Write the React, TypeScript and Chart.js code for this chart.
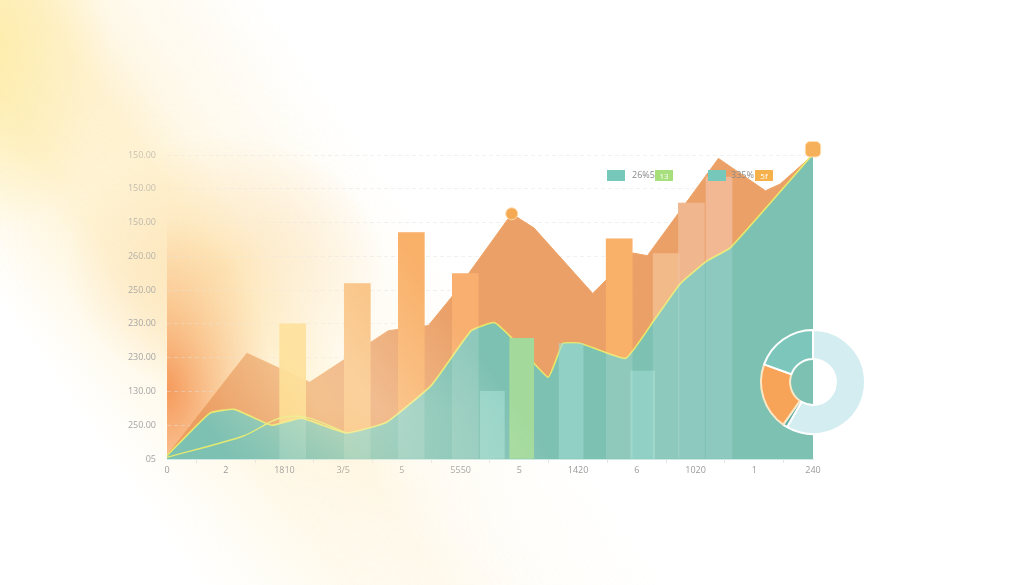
import React, { useEffect, useRef } from "react";
import { Chart, registerables } from "chart.js";
Chart.register(...registerables);

const xLabels = ["0", "2", "1810", "3/5", "5", "5550", "5", "1420", "6", "1020", "1", "240"];
const yLabels = ["05", "250.00", "130.00", "230.00", "230.00", "250.00", "260.00", "150.00", "150.00", "150.00"];

const orangeX = [0, 1.36, 2.43, 3.77, 4.45, 4.84, 5.87, 6.25, 7.25, 7.93, 8.18, 9.39, 10.19, 10.44, 11];
const orangeY = [0.1, 3.13, 2.27, 3.8, 3.95, 4.78, 7.26, 6.84, 4.9, 6.1, 6.02, 8.9, 7.94, 8.14, 9.0];

const tealX = [0, 0.73, 1.15, 1.78, 2.29, 3.06, 3.74, 4.5, 5.18, 5.57, 5.86, 6.49, 6.74, 7.05, 7.81, 8.29, 8.74, 9.2, 9.59, 11];
const tealY = [0.1, 1.36, 1.47, 1.0, 1.21, 0.77, 1.09, 2.18, 3.8, 4.04, 3.6, 2.42, 3.42, 3.42, 2.98, 4.1, 5.19, 5.87, 6.25, 9.03];

const lowX = [0, 1.3, 1.9, 2.36, 3.06];
const lowY = [0.05, 0.68, 1.2, 1.24, 0.77];

const warmX = [2.14, 3.24, 4.16, 5.08, 7.7, 8.5, 8.93, 9.4];
const warmY = [4.0, 5.19, 6.7, 5.49, 6.52, 6.08, 7.58, 8.35];
const warmColors = ["rgba(253,208,110,0.95)", "#f9b264", "#f9a553", "#f7a45a", "#f9a553", "#f2b078", "#eeac7c", "#f0ae84"];

const coolX = [5.54, 6.04, 6.88, 8.1];
const coolY = [2.0, 3.57, 3.42, 2.6];
const coolColors = ["rgba(165,222,212,0.65)", "#a3da9c", "rgba(160,220,210,0.6)", "rgba(160,220,210,0.6)"];

const markerX = [5.87, 11];
const markerY = [7.26, 9.17];

const donutLabels = ["a", "b", "c", "d"];
const donutValues = [58.3, 1.4, 20.8, 19.5];
const donutColors = ["#d3edf1", "#5fb0a5", "#f7a459", "#7cc6bc"];

const pts = (xs: number[], ys: number[]) => xs.map((x, i) => ({ x, y: ys[i] }));

export default function App() {
  const mainRef = useRef<HTMLCanvasElement>(null);
  const donutRef = useRef<HTMLCanvasElement>(null);

  useEffect(() => {
    const font = { family: "'Open Sans', sans-serif", size: 9 };
    const main = new Chart(mainRef.current as HTMLCanvasElement, {
      type: "line",
      data: {
        datasets: [
          {
            type: "line",
            data: pts(orangeX, orangeY),
            fill: "origin",
            backgroundColor: "rgba(234,155,96,0.95)",
            borderColor: "rgba(238,162,100,1)",
            borderWidth: 1,
            pointRadius: 0,
            tension: 0,
            order: 6,
          },
          {
            type: "bar",
            data: pts(warmX, warmY),
            backgroundColor: warmColors,
            barThickness: 26,
            grouped: false,
            order: 5,
          },
          {
            type: "line",
            data: pts(tealX, tealY),
            fill: "origin",
            backgroundColor: "rgba(116,196,185,0.93)",
            borderColor: "#e9e86a",
            borderWidth: 1.6,
            pointRadius: 0,
            tension: 0.12,
            order: 4,
          },
          {
            type: "line",
            data: pts(lowX, lowY),
            fill: false,
            borderColor: "#e3ea70",
            borderWidth: 1.4,
            pointRadius: 0,
            tension: 0.3,
            order: 3,
          },
          {
            type: "bar",
            data: pts(coolX, coolY),
            backgroundColor: coolColors,
            barThickness: 24,
            grouped: false,
            order: 2,
          },
          {
            type: "bar",
            data: pts(warmX, warmY),
            backgroundColor: "rgba(255,255,255,0.13)",
            barThickness: 26,
            grouped: false,
            order: 1,
          },
          {
            type: "line",
            data: pts(markerX, markerY),
            showLine: false,
            pointStyle: ["circle", "rectRounded"],
            pointRadius: [6, 9],
            pointBackgroundColor: ["#f6a953", "#f7b05a"],
            pointBorderColor: ["#ffd9a6", "#ffe0b0"],
            pointBorderWidth: 1,
            clip: false,
            order: 0,
          },
        ],
      },
      options: {
        responsive: false,
        animation: false,
        layout: { padding: { top: 155, right: 211, bottom: 0, left: 0 } },
        plugins: { legend: { display: false }, tooltip: { enabled: false } },
        scales: {
          x: {
            type: "linear",
            min: 0,
            max: 11,
            offset: false,
            afterFit: (s: any) => {
              s.height = 126;
            },
            ticks: {
              stepSize: 1,
              autoSkip: false,
              maxRotation: 0,
              padding: 2,
              color: "#9a9a9a",
              font,
              callback: (v: any) => xLabels[v as number] ?? "",
            },
            grid: { display: true, drawOnChartArea: false, tickLength: 4, color: "#e4e4e4" },
            border: { display: true, color: "rgba(200,232,226,0.9)" },
          },
          y: {
            type: "linear",
            min: 0,
            max: 9,
            z: 1,
            afterFit: (s: any) => {
              s.width = 167;
            },
            ticks: {
              stepSize: 1,
              padding: 11,
              color: "#a5a5a5",
              font,
              callback: (v: any) => yLabels[v as number] ?? "",
            },
            grid: { drawTicks: false, color: "rgba(225,225,225,0.45)" },
            border: { display: false, dash: [4, 3] },
          },
        },
      },
    } as any);

    const donut = new Chart(donutRef.current as HTMLCanvasElement, {
      type: "doughnut",
      data: {
        labels: donutLabels,
        datasets: [
          {
            data: donutValues,
            backgroundColor: donutColors,
            borderColor: ["#ffffff", "#ffffff", "#fbe7c6", "#ffffff"],
            borderWidth: 2,
          },
        ],
      },
      options: {
        responsive: false,
        animation: false,
        radius: 52,
        cutout: 26,
        plugins: { legend: { display: false }, tooltip: { enabled: false } },
      },
    } as any);

    return () => {
      main.destroy();
      donut.destroy();
    };
  }, []);

  const legendText: React.CSSProperties = {
    position: "absolute",
    fontFamily: "'Open Sans', sans-serif",
    fontSize: 9,
    color: "#8a8a8a",
    lineHeight: "12px",
  };
  const box = (left: number, color: string): React.CSSProperties => ({
    position: "absolute",
    left,
    top: 170,
    width: 18,
    height: 11,
    background: color,
    color: "#fff",
    fontFamily: "'Open Sans', sans-serif",
    fontSize: 8,
    lineHeight: "11px",
    textAlign: "center",
  });

  return (
    <div
      style={{
        position: "absolute",
        left: 0,
        top: 0,
        width: 1024,
        height: 585,
        overflow: "hidden",
        background: "#ffffff",
      }}
    >
      <div
        style={{
          position: "absolute",
          inset: 0,
          background:
            "linear-gradient(55deg, rgba(255,255,255,0) 14%, rgba(254,232,170,0.55) 24%, rgba(254,230,180,0.5) 31%, rgba(255,242,215,0.35) 38%, rgba(255,255,255,0) 47%)",
          WebkitMaskImage: "linear-gradient(160deg, #000 15%, rgba(0,0,0,0.45) 60%, rgba(0,0,0,0.2) 95%)",
          maskImage: "linear-gradient(160deg, #000 15%, rgba(0,0,0,0.45) 60%, rgba(0,0,0,0.2) 95%)",
        }}
      />
      <div
        style={{
          position: "absolute",
          inset: 0,
          background: [
            "radial-gradient(ellipse 160px 130px at 225px 265px, rgba(252,208,145,0.65), rgba(252,215,160,0.3) 60%, rgba(252,220,170,0) 100%)",
            "radial-gradient(ellipse 110px 190px at 0px 40px, rgba(253,236,160,0.85), rgba(253,236,160,0) 100%)",
          ].join(","),
        }}
      />
      <div
        style={{
          position: "absolute",
          left: 167,
          top: 155,
          width: 220,
          height: 304,
          background:
            "radial-gradient(ellipse 105px 175px at 0px 235px, rgba(245,150,85,0.95), rgba(247,168,100,0.6) 50%, rgba(250,190,130,0) 100%)",
        }}
      />
      <canvas
        ref={mainRef}
        width={1024}
        height={585}
        style={{ position: "absolute", left: 0, top: 0, width: 1024, height: 585 }}
      />
      <canvas
        ref={donutRef}
        width={120}
        height={120}
        style={{ position: "absolute", left: 753, top: 322, width: 120, height: 120 }}
      />
      <div
        style={{
          position: "absolute",
          inset: 0,
          pointerEvents: "none",
          background:
            "linear-gradient(55deg, rgba(255,255,255,0) 22%, rgba(255,240,195,0.42) 31%, rgba(255,250,230,0.32) 35%, rgba(255,255,255,0) 45%)",
          WebkitMaskImage: "linear-gradient(180deg, #000 0%, #000 70%, rgba(0,0,0,0.3) 90%)",
          maskImage: "linear-gradient(180deg, #000 0%, #000 70%, rgba(0,0,0,0.3) 90%)",
        }}
      />
      <div style={box(607, "#76c8bb")} />
      <div style={{ ...legendText, left: 632, top: 169 }}>26%5</div>
      <div style={box(655, "#a6df7c")}>13</div>
      <div style={box(708, "#76c8bb")} />
      <div style={{ ...legendText, left: 731, top: 169 }}>335%</div>
      <div style={box(755, "#f7b14c")}>5f</div>
    </div>
  );
}
